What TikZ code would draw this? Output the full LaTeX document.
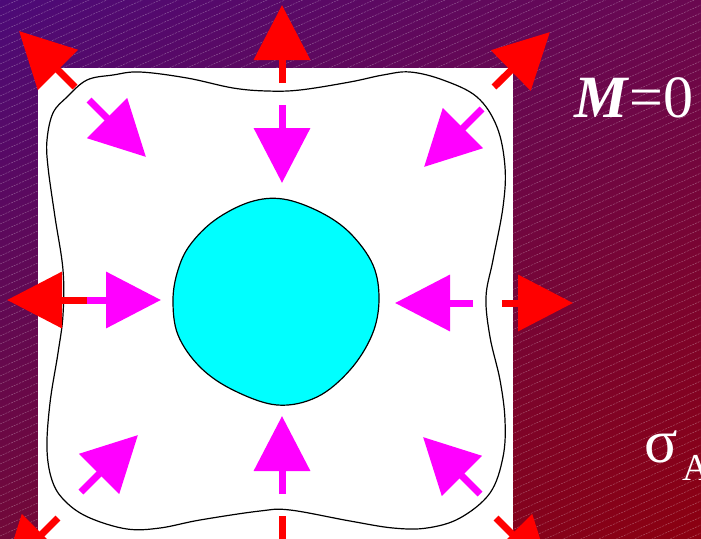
\documentclass[tikz,border=0pt]{standalone}
\usepackage{fontspec}
\setmainfont{Liberation Serif}
\usetikzlibrary{arrows.meta,shadings}
\definecolor{bgtl}{RGB}{76,10,120}
\definecolor{bgtr}{RGB}{106,8,80}
\definecolor{bgbl}{RGB}{114,8,56}
\definecolor{bgbr}{RGB}{140,0,16}
\definecolor{holecyan}{RGB}{0,255,255}
\definecolor{pushmag}{RGB}{255,0,255}
\definecolor{pullred}{RGB}{255,0,0}

\begin{document}
\begin{tikzpicture}[x=1pt,y=-1pt,
  inarr/.style={pushmag, line width=7pt, -{Triangle[length=55pt,width=55pt]}},
  outarr/.style={pullred, line width=7pt, -{Triangle[length=55pt,width=55pt]}},
  hatch/.style={white, opacity=0.3, line width=0.5pt, dash pattern=on 2pt off 1pt},
  lbl/.style={text=white, inner sep=0pt, anchor=base west}
]
\useasboundingbox (0,0) rectangle (701,538);
\begin{scope}
\clip (0,0) rectangle (701,538);
\begin{scope}[y=1pt]
\shade[upper left=bgtl, upper right=bgtr, lower left=bgbl, lower right=bgbr] (0,-538) rectangle (701,0);
\end{scope}
\foreach \c in {0,8,...,880}
  \draw[hatch] (0,\c) -- (701,\c-315);

\fill[white] (38,68) rectangle (513,545);

% outer boundary
\draw[black, line width=1.2pt] plot[smooth cycle, tension=0.6] coordinates {
  (47,140) (53,113) (67,97) (87,80) (113,75) (140,72) (187,78) (233,88)
  (267,91) (300,90) (350,82) (383,75) (410,72) (443,80) (477,97) (497,127)
  (505,167) (503,207) (493,260) (486,297) (490,337) (500,380) (505,420)
  (503,457) (490,493) (460,518) (427,528) (393,528) (350,521)
  (290,510) (260,511) (200,520) (160,528) (127,529) (90,518) (67,503)
  (53,483) (47,450) (50,403) (58,353) (63,315) (63,270) (55,217) (48,167)};

% hole
\draw[black, line width=1.2pt, fill=holecyan] plot[smooth cycle, tension=0.6] coordinates {
  (173,300) (178,335) (200,367) (233,390) (277,405) (317,397) (350,370)
  (372,335) (379,300) (373,265) (350,233) (320,212) (283,199) (250,202)
  (215,220) (190,245) (178,270)};

% inward
\draw[inarr] (282,105) -- (282,183);
\draw[inarr] (282,494) -- (282,416);
\draw[inarr] (86,300) -- (161,300);
\draw[inarr] (473,303) -- (395,303);
\draw[inarr] (89,100) -- (146,157);
\draw[inarr] (482,109) -- (424,167);
\draw[inarr] (81,492) -- (138,435);
\draw[inarr] (480,494) -- (423,437);

% outward
\draw[outarr] (282,83) -- (282,5);
\draw[outarr] (282,516) -- (282,594);
\draw[outarr] (87,300) -- (7,300);
\draw[outarr] (502,303) -- (573,303);
\draw[outarr] (75,87) -- (19,31);
\draw[outarr] (494,87) -- (550,32);
\draw[outarr] (58,518) -- (3,573);
\draw[outarr] (496,518) -- (551,573);
\end{scope}

\node[lbl, font=\fontsize{60}{62}\selectfont] (mzero) at (574,117) {\textbf{\textit{M}}=0};
\node[lbl, font=\fontsize{62}{64}\selectfont] (sig) at (644,462) {σ};
\node[lbl, font=\fontsize{38}{40}\selectfont] (sub) at (682,480) {A};
\end{tikzpicture}
\end{document}
